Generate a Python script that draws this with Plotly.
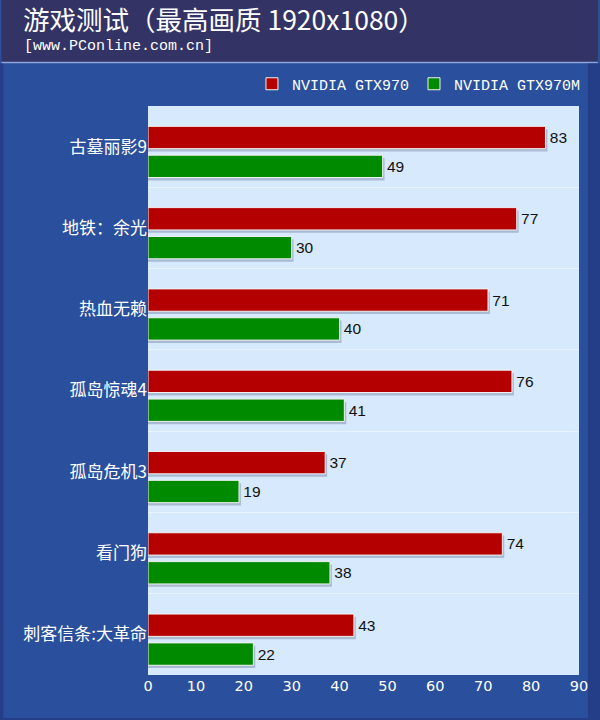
import plotly.graph_objects as go

categories = ["古墓丽影9", "地铁：余光", "热血无赖", "孤岛惊魂4", "孤岛危机3", "看门狗", "刺客信条:大革命"]
series_names = ["NVIDIA GTX970", "NVIDIA GTX970M"]
gtx970 = [83, 77, 71, 76, 37, 74, 43]
gtx970m = [49, 30, 40, 41, 19, 38, 22]
x_ticks = [0, 10, 20, 30, 40, 50, 60, 70, 80, 90]

RED = "#b50000"
GREEN = "#008a00"
SHADOW = "#a9bad3"
HEADER = "#333366"
BLUE = "#2a4f9c"
EDGE = "#243f88"
PLOT_BG = "#d7e9fc"

# pixel geometry helpers (plot area: x 147.5..581, y 106..675)
L, R, T, B = 147.5, 581.0, 106.0, 675.0
PW, PH = R - L, B - T
def px(xp):
    return (xp - L) / PW
def py(yp):
    return 1 - (yp - T) / PH

fig = go.Figure()

bar_w = 0.275
offsets = [-0.25, 0.105]
values = [gtx970, gtx970m]
colors = [RED, GREEN]

# shadows
for vals, off in zip(values, offsets):
    fig.add_trace(go.Bar(
        y=categories, x=[v + 0.4 for v in vals], orientation="h",
        offset=off + 0.035, width=bar_w,
        marker=dict(color=SHADOW, line=dict(width=0)),
        showlegend=False, hoverinfo="skip",
    ))

for name, vals, off, col in zip(series_names, values, offsets, colors):
    fig.add_trace(go.Bar(
        y=categories, x=vals, orientation="h", name=name,
        offset=off, width=bar_w,
        marker=dict(color=col, line=dict(color="#f2f2f2", width=1)),
        text=[f"\u200a{v}" for v in vals], textposition="outside",
        textfont=dict(family="Liberation Sans", size=15.5, color="#111111"),
        cliponaxis=False,
    ))

fig.update_layout(
    width=600, height=720,
    margin=dict(l=L, r=600 - R, t=T, b=720 - B, pad=0),
    paper_bgcolor=BLUE,
    plot_bgcolor=PLOT_BG,
    barmode="overlay",
    showlegend=True,
    legend=dict(
        orientation="h", x=px(588), xanchor="right", y=py(84), yanchor="middle",
        font=dict(family="Liberation Mono", size=15, color="white"),
        bgcolor="rgba(0,0,0,0)", traceorder="normal",
    ),
    xaxis=dict(
        range=[0, 90], tickvals=x_ticks, showgrid=False, zeroline=False,
        tickfont=dict(family="DejaVu Sans", size=14.5, color="white"),
        ticks="", fixedrange=True,
    ),
    yaxis=dict(
        type="category", range=[len(categories) - 0.5, -0.5],
        tickson="boundaries", showgrid=True, gridcolor="#e9f3fe", gridwidth=1,
        ticks="", tickfont=dict(family="Noto Sans CJK SC", size=17, color="white"),
        fixedrange=True,
    ),
    shapes=[
        dict(type="rect", xref="paper", yref="paper", layer="below",
             x0=px(0), x1=px(600), y0=py(62), y1=py(-2),
             fillcolor=HEADER, line=dict(width=0)),
        dict(type="line", xref="paper", yref="paper", layer="below",
             x0=px(0), x1=px(600), y0=py(62.5), y1=py(62.5),
             line=dict(color="#8ea3d6", width=1.5)),
        dict(type="rect", xref="paper", yref="paper", layer="below",
             x0=px(590), x1=px(602), y0=py(722), y1=py(63.5),
             fillcolor=EDGE, line=dict(width=0)),
        dict(type="rect", xref="paper", yref="paper", layer="below",
             x0=px(-2), x1=px(2), y0=py(722), y1=py(63.5),
             fillcolor=EDGE, line=dict(width=0)),
        dict(type="rect", xref="paper", yref="paper", layer="below",
             x0=px(-2), x1=px(602), y0=py(722), y1=py(718),
             fillcolor=EDGE, line=dict(width=0)),
    ],
    annotations=[
        dict(text="游戏测试（最高画质 1920x1080）", xref="paper", yref="paper",
             x=px(20), y=py(19), xanchor="left", yanchor="middle", showarrow=False,
             font=dict(family="Noto Sans CJK SC", size=26.5, color="white")),
        dict(text="[www.PConline.com.cn]", xref="paper", yref="paper",
             x=px(21), y=py(47), xanchor="left", yanchor="middle", showarrow=False,
             font=dict(family="Liberation Mono", size=15, color="white")),
    ],
)

fig.write_html(
    "out.html",
    config={"displayModeBar": False},
    post_script="document.body.style.margin='0';document.body.style.overflow='hidden';",
)
